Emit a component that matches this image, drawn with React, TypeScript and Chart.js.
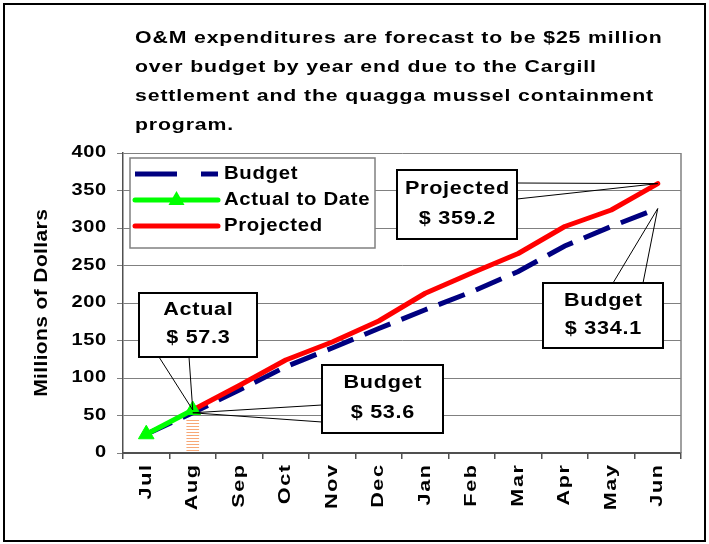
import React, { useEffect, useRef } from "react";
import { Chart, registerables } from "chart.js";

Chart.register(...registerables);

// ---------- data ----------
const months = ["Jul", "Aug", "Sep", "Oct", "Nov", "Dec", "Jan", "Feb", "Mar", "Apr", "May", "Jun"];
const budget = [25, 53.6, 84, 115, 140, 166, 191, 215, 242, 276, 302, 326];
const actualToDate = [25, 57.3, null, null, null, null, null, null, null, null, null, null];
const projected = [null, 57.3, 90, 124, 148, 176, 213, 240, 266, 302, 324, 359.2];
const augMarker = [null, 46, null, null, null, null, null, null, null, null, null, null];
const yMin = 0;
const yMax = 400;
const yStep = 50;
const titleLines = [
  "O&M expenditures are forecast to be $25 million",
  "over budget by year end due to the Cargill",
  "settlement and the quagga mussel containment",
  "program.",
];
const yAxisTitle = "Millions of Dollars";
const seriesNames = ["Budget", "Actual to Date", "Projected"];
const actualLabel = ["Actual", "$ 57.3"];
const budgetAugLabel = ["Budget", "$ 53.6"];
const projectedLabel = ["Projected", "$ 359.2"];
const budgetJunLabel = ["Budget", "$ 334.1"];

// ---------- styles ----------
const FF = "'Liberation Sans', Arial, Helvetica, sans-serif";
const BLUE = "#000080";
const GREEN = "#00FF00";
const RED = "#FF0000";
const GRID = "#808080";
const AXIS = "#505050";

type TOpts = {
  size: number;
  spacing: number;
  sx?: number;
  align?: "left" | "center" | "right";
  rotate?: number;
  baseline?: CanvasTextBaseline;
};

function drawText(ctx: CanvasRenderingContext2D, s: string, x: number, y: number, o: TOpts) {
  ctx.save();
  ctx.font = `bold ${o.size}px ${FF}`;
  (ctx as any).letterSpacing = `${o.spacing}px`;
  ctx.fillStyle = "#000";
  ctx.textBaseline = o.baseline || "middle";
  ctx.textAlign = "left";
  const w = ctx.measureText(s).width - o.spacing;
  ctx.translate(x, y);
  if (o.rotate) ctx.rotate(o.rotate);
  ctx.scale(o.sx || 1, 1);
  const align = o.align || "left";
  const dx = align === "left" ? 0 : align === "center" ? -w / 2 : -w;
  ctx.fillText(s, dx, 0);
  ctx.restore();
}

const BOX_TEXT = { size: 18, spacing: 0.6, sx: 1.2 };
const LEGEND_TEXT = { size: 18, spacing: 0.6, sx: 1.13 };

function callout(
  ctx: CanvasRenderingContext2D,
  box: [number, number, number, number],
  a: [number, number],
  b: [number, number],
  pt: { x: number; y: number },
  lines: string[]
) {
  const [x0, y0, x1, y1] = box;
  ctx.save();
  ctx.strokeStyle = "#000";
  ctx.lineWidth = 1;
  ctx.beginPath();
  ctx.moveTo(a[0], a[1]);
  ctx.lineTo(pt.x, pt.y);
  ctx.lineTo(b[0], b[1]);
  ctx.stroke();
  ctx.fillStyle = "#fff";
  ctx.fillRect(x0, y0, x1 - x0, y1 - y0);
  ctx.lineWidth = 2;
  ctx.strokeRect(x0, y0, x1 - x0, y1 - y0);
  ctx.restore();
  const cx = (x0 + x1) / 2;
  const h = y1 - y0;
  drawText(ctx, lines[0], cx, y0 + h * 0.27, { ...BOX_TEXT, align: "center" });
  drawText(ctx, lines[1], cx, y0 + h * 0.71, { ...BOX_TEXT, align: "center" });
}

const overlayPlugin = {
  id: "overlay",
  beforeDraw(chart: any) {
    const ctx: CanvasRenderingContext2D = chart.ctx;
    const { top, bottom } = chart.chartArea;
    ctx.save();
    ctx.fillStyle = "#fff";
    ctx.fillRect(0, 0, chart.width, chart.height);
    ctx.strokeStyle = "#000";
    ctx.lineWidth = 2;
    ctx.strokeRect(4, 4, chart.width - 8, chart.height - 7);
    ctx.restore();
    titleLines.forEach((l, i) =>
      drawText(ctx, l, 135, 43 + 29 * i, { size: 17, spacing: 0.7, sx: 1.25, baseline: "alphabetic" })
    );
    drawText(ctx, yAxisTitle, 42, (top + bottom) / 2, {
      size: 18,
      spacing: 0.3,
      sx: 1.17,
      align: "center",
      rotate: -Math.PI / 2,
    });
  },
  beforeDatasetsDraw(chart: any) {
    const ctx: CanvasRenderingContext2D = chart.ctx;
    const { top, bottom, right } = chart.chartArea;
    ctx.save();
    ctx.strokeStyle = GRID;
    ctx.lineWidth = 1.5;
    ctx.beginPath();
    ctx.moveTo(right, top);
    ctx.lineTo(right, bottom);
    ctx.stroke();
    ctx.restore();
  },
  afterDatasetsDraw(chart: any) {
    const ctx: CanvasRenderingContext2D = chart.ctx;
    const xs = chart.scales.x;
    const ys = chart.scales.y;
    const { bottom, left } = chart.chartArea;

    // y tick labels
    for (let v = yMin; v <= yMax; v += yStep) {
      drawText(ctx, String(v), left - 17, ys.getPixelForValue(v), { size: 16, spacing: 0.5, sx: 1.25, align: "right" });
    }

    // x labels
    months.forEach((m, i) => {
      const x = xs.getPixelForValue(i);
      drawText(ctx, m, x, bottom + 12, { size: 16, spacing: 1.2, sx: 1.35, align: "right", rotate: -Math.PI / 2 });
    });

    // legend
    const lx0 = 130, ly0 = 158, lx1 = 375, ly1 = 248;
    ctx.save();
    ctx.fillStyle = "#fff";
    ctx.fillRect(lx0, ly0, lx1 - lx0, ly1 - ly0);
    ctx.strokeStyle = GRID;
    ctx.lineWidth = 1.5;
    ctx.strokeRect(lx0, ly0, lx1 - lx0, ly1 - ly0);
    const rows = [174, 200, 226];
    const sx0 = 135, sx1 = 218;
    ctx.lineWidth = 5;
    // budget
    ctx.strokeStyle = BLUE;
    ctx.setLineDash([42, 24]);
    ctx.beginPath();
    ctx.moveTo(sx0, rows[0]);
    ctx.lineTo(sx1, rows[0]);
    ctx.stroke();
    ctx.setLineDash([]);
    // actual
    ctx.strokeStyle = GREEN;
    ctx.lineCap = "round";
    ctx.beginPath();
    ctx.moveTo(sx0, rows[1]);
    ctx.lineTo(sx1, rows[1]);
    ctx.stroke();
    const tcx = (sx0 + sx1) / 2;
    ctx.fillStyle = GREEN;
    ctx.beginPath();
    ctx.moveTo(tcx, rows[1] - 9);
    ctx.lineTo(tcx + 8, rows[1] + 5);
    ctx.lineTo(tcx - 8, rows[1] + 5);
    ctx.closePath();
    ctx.fill();
    // projected
    ctx.strokeStyle = RED;
    ctx.beginPath();
    ctx.moveTo(sx0, rows[2]);
    ctx.lineTo(sx1, rows[2]);
    ctx.stroke();
    ctx.restore();
    seriesNames.forEach((n, i) => drawText(ctx, n, 224, rows[i], LEGEND_TEXT));

    // callouts
    const aMeta = chart.getDatasetMeta(0).data;
    const pMeta = chart.getDatasetMeta(1).data;
    const bMeta = chart.getDatasetMeta(2).data;
    const last = months.length - 1;
    callout(ctx, [139, 293, 257, 357], [159, 357], [189, 357], aMeta[1], actualLabel);
    callout(ctx, [322, 365, 443, 433], [322, 405], [322, 422], bMeta[1], budgetAugLabel);
    callout(ctx, [397, 170, 517, 239], [517, 183], [517, 199], pMeta[last], projectedLabel);
    callout(ctx, [543, 283, 663, 348], [613, 283], [643, 283], bMeta[last], budgetJunLabel);
  },
};

export default function App() {
  const ref = useRef<HTMLCanvasElement>(null);
  useEffect(() => {
    const canvas = ref.current!;
    const pc = document.createElement("canvas");
    pc.width = 4;
    pc.height = 3;
    const pctx = pc.getContext("2d")!;
    pctx.fillStyle = "#F7A877";
    pctx.fillRect(0, 0, 4, 1);
    const pattern = canvas.getContext("2d")!.createPattern(pc, "repeat");

    const chart = new Chart(canvas, {
      type: "line",
      data: {
        labels: months,
        datasets: [
          {
            label: seriesNames[1],
            data: actualToDate,
            borderColor: GREEN,
            backgroundColor: GREEN,
            borderWidth: 5,
            pointStyle: "triangle",
            pointRadius: 9,
            pointBorderWidth: 1,
            pointBackgroundColor: GREEN,
            pointBorderColor: GREEN,
            order: 0,
          } as any,
          {
            label: seriesNames[2],
            data: projected,
            borderColor: RED,
            borderWidth: 5,
            borderCapStyle: "round",
            borderJoinStyle: "round",
            pointRadius: 0,
            order: 1,
          } as any,
          {
            label: seriesNames[0],
            data: budget,
            borderColor: BLUE,
            borderWidth: 5,
            borderDash: [28, 12],
            pointRadius: 0,
            order: 2,
          } as any,
          {
            type: "bar",
            label: "marker",
            data: augMarker,
            backgroundColor: pattern as any,
            borderWidth: 0,
            barThickness: 12,
            order: 3,
          } as any,
        ],
      },
      options: {
        animation: false,
        responsive: false,
        maintainAspectRatio: false,
        events: [],
        layout: { padding: { top: 153, right: 28, left: 0, bottom: 0 } },
        plugins: { legend: { display: false }, tooltip: { enabled: false }, title: { display: false } },
        scales: {
          x: {
            type: "category",
            offset: true,
            grid: {
              display: true,
              offset: true,
              drawOnChartArea: false,
              drawTicks: true,
              tickLength: 6,
              color: AXIS,
              lineWidth: 1.5,
            },
            border: { display: true, color: AXIS, width: 2 },
            ticks: { display: false },
            afterFit: (s: any) => {
              s.height = 91;
            },
          },
          y: {
            min: yMin,
            max: yMax,
            ticks: { stepSize: yStep, display: false },
            grid: { color: GRID, lineWidth: 1, tickLength: 6, drawTicks: true },
            border: { display: true, color: AXIS, width: 1.5 },
            afterFit: (s: any) => {
              s.width = 123;
            },
          },
        },
      } as any,
      plugins: [overlayPlugin as any],
    });
    return () => chart.destroy();
  }, []);

  return (
    <div style={{ position: "absolute", left: 0, top: 0, width: 709, height: 544 }}>
      <canvas ref={ref} width={709} height={544} style={{ display: "block", width: 709, height: 544 }} />
    </div>
  );
}
